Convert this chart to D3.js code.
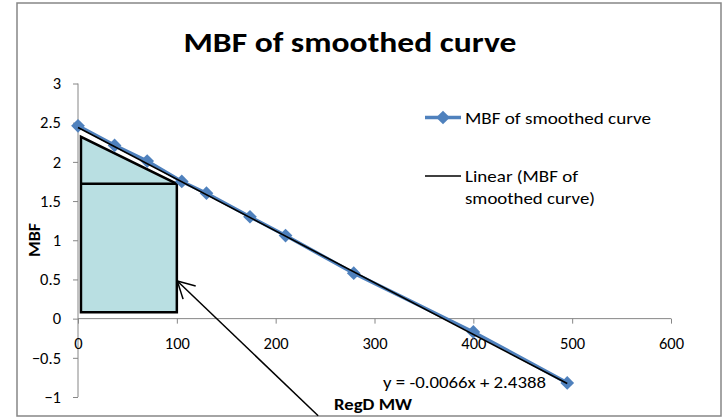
<!DOCTYPE html>
<html>
<head>
<meta charset="utf-8">
<script src="https://cdn.jsdelivr.net/npm/d3@7"></script>
<style>
  body { margin: 0; background: #fff; }
  text { font-family: Carlito, Calibri, Lato, sans-serif; fill: #000; }
</style>
</head>
<body>
<div id="chart"></div>
<script>
// RegD MW (x) and MBF (y)
const regdMW = [0, 37, 70, 105, 130, 174, 210, 279, 400, 495];
const mbfValues = [2.46, 2.21, 2.01, 1.75, 1.60, 1.30, 1.06, 0.58, -0.17, -0.82];

// linear trendline as printed on the chart
const trendSlope = -0.0066;
const trendIntercept = 2.4388;

const xTicks = [0, 100, 200, 300, 400, 500, 600];
const yTicks = [-1, -0.5, 0, 0.5, 1, 1.5, 2, 2.5, 3];

// shaded annotation area (in data units) and the arrow pointing at it
const boxX = [3, 100];
const boxY = [0.08, 1.72, 2.32];
const arrowFrom = [243, -1.24];
const arrowTo = [100.5, 0.48];

const width = 727, height = 419;
const blue = "#4f81bd", axisGrey = "#868686";
const tickFont = "16.5px";

const svg = d3.select("#chart")
    .append("svg")
    .attr("width", width)
    .attr("height", height);

// chart frame
svg.append("rect")
    .attr("x", 17).attr("y", 3)
    .attr("width", 704).attr("height", 413)
    .attr("fill", "#fff")
    .attr("stroke", axisGrey)
    .attr("stroke-width", 1.5);

const x = d3.scaleLinear().domain([0, 600]).range([78, 671]);
const y = d3.scaleLinear().domain([-1, 3]).range([397, 83.5]);

// title
svg.append("text")
    .attr("x", 350).attr("y", 51.5)
    .attr("text-anchor", "middle")
    .style("font-size", "28.5px")
    .style("font-weight", "bold")
    .attr("textLength", 333)
    .attr("lengthAdjust", "spacingAndGlyphs")
    .text("MBF of smoothed curve");

// shaded box
const boxPts = [
    [boxX[0], boxY[0]], [boxX[0], boxY[2]], [boxX[1], boxY[1]], [boxX[1], boxY[0]]
];
svg.append("path")
    .attr("d", d3.line().x(d => x(d[0])).y(d => y(d[1]))(boxPts) + "Z")
    .attr("fill", "#b9dfe2")
    .attr("stroke", "#000")
    .attr("stroke-width", 2.5);
svg.append("line")
    .attr("x1", x(boxX[0])).attr("x2", x(boxX[1]))
    .attr("y1", y(boxY[1])).attr("y2", y(boxY[1]))
    .attr("stroke", "#000")
    .attr("stroke-width", 2.5);

// y axis
const yAxis = svg.append("g")
    .attr("transform", "translate(" + x(0) + ",0)")
    .call(d3.axisLeft(y).tickValues(yTicks).tickSize(5).tickFormat(d3.format("")));
yAxis.select(".domain").attr("stroke", axisGrey).attr("d", "M0," + y(3) + "V" + y(-1));
yAxis.selectAll(".tick line").attr("stroke", axisGrey);
yAxis.selectAll(".tick text")
    .attr("x", -17)
    .style("font-size", tickFont)
    .style("font-family", "Carlito, Calibri, Lato, sans-serif");

// x axis at y = 0
const xAxis = svg.append("g")
    .attr("transform", "translate(0," + y(0) + ")")
    .call(d3.axisBottom(x).tickValues(xTicks).tickSize(5).tickFormat(d3.format("d")));
xAxis.select(".domain").attr("stroke", axisGrey).attr("d", "M" + x(0) + ",0H" + x(600));
xAxis.selectAll(".tick line").attr("stroke", axisGrey);
xAxis.selectAll(".tick text")
    .attr("y", 30).attr("dy", null)
    .style("font-size", tickFont)
    .style("font-family", "Carlito, Calibri, Lato, sans-serif");

// axis titles
svg.append("text")
    .attr("transform", "translate(39.5,240) rotate(-90)")
    .attr("text-anchor", "middle")
    .style("font-size", "16.5px")
    .style("font-weight", "bold")
    .attr("textLength", 34)
    .attr("lengthAdjust", "spacingAndGlyphs")
    .text("MBF");

svg.append("text")
    .attr("x", 334).attr("y", 410)
    .style("font-size", "16.5px")
    .style("font-weight", "bold")
    .attr("textLength", 78)
    .attr("lengthAdjust", "spacingAndGlyphs")
    .text("RegD MW");

// data series
const data = regdMW.map((v, i) => ({ mw: v, mbf: mbfValues[i] }));
const diamond = d3.symbol().type(d3.symbolDiamond2).size(120);

svg.append("path")
    .datum(data)
    .attr("fill", "none")
    .attr("stroke", blue)
    .attr("stroke-width", 3.5)
    .attr("d", d3.line().x(d => x(d.mw)).y(d => y(d.mbf)));

svg.selectAll(".pt")
    .data(data)
    .join("path")
    .attr("class", "pt")
    .attr("transform", d => "translate(" + x(d.mw) + "," + y(d.mbf) + ")")
    .attr("d", diamond)
    .attr("fill", blue);

// trendline
const xr = d3.extent(regdMW);
svg.append("line")
    .attr("x1", x(xr[0])).attr("y1", y(trendIntercept + trendSlope * xr[0]))
    .attr("x2", x(xr[1])).attr("y2", y(trendIntercept + trendSlope * xr[1]))
    .attr("stroke", "#000")
    .attr("stroke-width", 1.6);

svg.append("text")
    .attr("x", 383).attr("y", 388)
    .style("font-size", "16.5px")
    .attr("textLength", 163)
    .attr("lengthAdjust", "spacingAndGlyphs")
    .text("y = " + trendSlope + "x + " + trendIntercept);

// arrow
const ax1 = x(arrowFrom[0]), ay1 = y(arrowFrom[1]);
const ax2 = x(arrowTo[0]), ay2 = y(arrowTo[1]);
const ang = Math.atan2(ay1 - ay2, ax1 - ax2);
svg.append("line")
    .attr("x1", ax1).attr("y1", ay1).attr("x2", ax2).attr("y2", ay2)
    .attr("stroke", "#000").attr("stroke-width", 1.5);
[-0.5, 0.5].forEach(da => {
    svg.append("line")
        .attr("x1", ax2).attr("y1", ay2)
        .attr("x2", ax2 + 19 * Math.cos(ang + da))
        .attr("y2", ay2 + 19 * Math.sin(ang + da))
        .attr("stroke", "#000").attr("stroke-width", 1.5);
});

// legend
const legend = svg.append("g");
legend.append("line")
    .attr("x1", 425).attr("x2", 461).attr("y1", 117.5).attr("y2", 117.5)
    .attr("stroke", blue).attr("stroke-width", 3.5);
legend.append("path")
    .attr("transform", "translate(443,117.5)")
    .attr("d", diamond)
    .attr("fill", blue);
legend.append("text")
    .attr("x", 465).attr("y", 123.5)
    .style("font-size", "16.5px")
    .attr("textLength", 186)
    .attr("lengthAdjust", "spacingAndGlyphs")
    .text("MBF of smoothed curve");

legend.append("line")
    .attr("x1", 425).attr("x2", 461).attr("y1", 176).attr("y2", 176)
    .attr("stroke", "#000").attr("stroke-width", 1.5);
legend.append("text")
    .attr("x", 465).attr("y", 182)
    .style("font-size", "16.5px")
    .attr("textLength", 113)
    .attr("lengthAdjust", "spacingAndGlyphs")
    .text("Linear (MBF of");
legend.append("text")
    .attr("x", 465).attr("y", 204)
    .style("font-size", "16.5px")
    .attr("textLength", 130)
    .attr("lengthAdjust", "spacingAndGlyphs")
    .text("smoothed curve)");
</script>
</body>
</html>
